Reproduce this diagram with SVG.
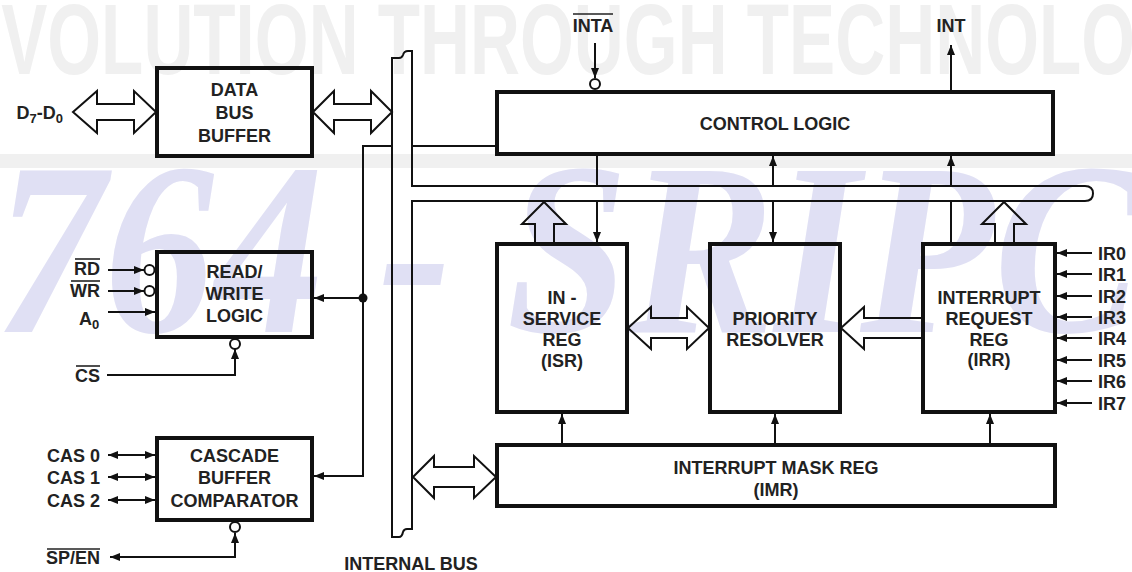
<svg xmlns="http://www.w3.org/2000/svg" width="1132" height="572" viewBox="0 0 1132 572">
<style>
.box{fill:none;stroke:#111;stroke-width:4}
.ln{fill:none;stroke:#111;stroke-width:2}
.hol{fill:none;stroke:#111;stroke-width:2;stroke-linejoin:miter}
.bub{fill:#fff;stroke:#111;stroke-width:2}
.t{font-family:"Liberation Sans",Arial,sans-serif;font-weight:bold;font-size:18px;fill:#222;text-anchor:middle}
.l{font-family:"Liberation Sans",Arial,sans-serif;font-weight:bold;font-size:18px;fill:#222;text-anchor:end}
.s{font-family:"Liberation Sans",Arial,sans-serif;font-weight:bold;font-size:18px;fill:#222;text-anchor:start}
.ov{stroke:#222;stroke-width:1.6}
</style>
<defs>
<marker id="ah" viewBox="0 0 10 8" refX="10" refY="4" markerWidth="10" markerHeight="8" markerUnits="userSpaceOnUse" orient="auto-start-reverse"><path d="M0,0 L10,4 L0,8 z" fill="#111"/></marker>
</defs>
<rect width="1132" height="572" fill="#fff"/>
<g id="watermark">
<text x="-45" y="74" font-family="'Liberation Sans Narrow','Liberation Sans',sans-serif" font-weight="bold" font-size="100" fill="#f0f0f0" textLength="1280" lengthAdjust="spacingAndGlyphs">EVOLUTION THROUGH TECHNOLOGY</text>
<rect x="0" y="154" width="1132" height="14" fill="#f0f0f0"/>
<text x="-5" y="332" font-family="'Liberation Serif',serif" font-style="italic" font-weight="bold" font-size="245" fill="#e0e0f4" textLength="1145" lengthAdjust="spacingAndGlyphs">764 - SRIPC</text>
</g>
<g id="connectors">
<path class="ln" d="M392,537 L392,58 L399,58 Q402,58 403,55 Q404,51 408,51 L412,51 L412,186 L1085,186 Q1093,186 1093,193.5 Q1093,201 1085,201 L412,201 L412,529 L407,529 Q404,529 403,532 Q402,537 399,537 Z"/>
<path class="ln" d="M392,146 H363 V476 H314" marker-end="url(#ah)"/>
<path class="ln" d="M412,146 H495"/>
<path class="ln" d="M363,298 H314" marker-end="url(#ah)"/>
<circle cx="363" cy="298" r="4.5" fill="#111"/>
<polygon class="hol" points="73,112 97,91 97,104 134,104 134,91 156,112 134,133 134,120 97,120 97,133"/>
<polygon class="hol" points="313,112 334,91 334,104 371,104 371,91 392,112 371,133 371,120 334,120 334,133"/>
<path class="ln" d="M108,270 H144" marker-end="url(#ah)"/>
<circle class="bub" cx="149.5" cy="270" r="5"/>
<path class="ln" d="M108,291 H144" marker-end="url(#ah)"/>
<circle class="bub" cx="149.5" cy="291" r="5"/>
<path class="ln" d="M108,312 H155" marker-end="url(#ah)"/>
<path class="ln" d="M107,375 H235 V349" marker-end="url(#ah)"/>
<circle class="bub" cx="235" cy="344" r="5"/>
<path class="ln" d="M108,455 H155" marker-start="url(#ah)" marker-end="url(#ah)"/>
<path class="ln" d="M108,477 H155" marker-start="url(#ah)" marker-end="url(#ah)"/>
<path class="ln" d="M108,500 H155" marker-start="url(#ah)" marker-end="url(#ah)"/>
<path class="ln" d="M235,533 V557 H110" marker-start="url(#ah)" marker-end="url(#ah)"/>
<circle class="bub" cx="235" cy="527" r="5"/>
<path class="ln" d="M595,43 V78" marker-end="url(#ah)"/>
<circle class="bub" cx="595" cy="84" r="5"/>
<path class="ln" d="M951,90 V45" marker-end="url(#ah)"/>
<path class="ln" d="M597,156 V186"/>
<path class="ln" d="M597,201 V242" marker-end="url(#ah)"/>
<path class="ln" d="M773,186 V156" marker-end="url(#ah)"/>
<path class="ln" d="M773,201 V242" marker-end="url(#ah)"/>
<path class="ln" d="M951,186 V156" marker-end="url(#ah)"/>
<path class="ln" d="M951,201 V242"/>
<path class="hol" d="M535,243 V224 H522 L544,202 L566,224 H554 V243"/>
<path class="hol" d="M995,243 V224 H982 L1004,202 L1026,224 H1014 V243"/>
<polygon class="hol" points="628,328 651,307 651,318 687,318 687,307 709,328 687,349 687,338 651,338 651,349"/>
<path class="hol" d="M922,318 H864 V307 L841,328 L864,349 V338 H922"/>
<polygon class="hol" points="413,477 434,456 434,467 474,467 474,456 496,477 474,498 474,487 434,487 434,498"/>
<path class="ln" d="M562,443 V414" marker-end="url(#ah)"/>
<path class="ln" d="M775,443 V414" marker-end="url(#ah)"/>
<path class="ln" d="M990,443 V414" marker-end="url(#ah)"/>
<path class="ln" d="M1092,253 H1057" marker-end="url(#ah)"/>
<path class="ln" d="M1092,274 H1057" marker-end="url(#ah)"/>
<path class="ln" d="M1092,296 H1057" marker-end="url(#ah)"/>
<path class="ln" d="M1092,317 H1057" marker-end="url(#ah)"/>
<path class="ln" d="M1092,338 H1057" marker-end="url(#ah)"/>
<path class="ln" d="M1092,360 H1057" marker-end="url(#ah)"/>
<path class="ln" d="M1092,381 H1057" marker-end="url(#ah)"/>
<path class="ln" d="M1092,403 H1057" marker-end="url(#ah)"/>
</g>
<g id="data-bus-buffer">
<rect class="box" x="157" y="68" width="155" height="88"/>
<text class="t" x="234.5" y="95.5">DATA</text>
<text class="t" x="234.5" y="118.5">BUS</text>
<text class="t" x="234.5" y="141.5">BUFFER</text>
</g>
<g id="read-write-logic">
<rect class="box" x="157" y="252" width="155" height="85"/>
<text class="t" x="234.5" y="278">READ/</text>
<text class="t" x="234.5" y="299.5">WRITE</text>
<text class="t" x="234.5" y="321.5">LOGIC</text>
</g>
<g id="cascade-buffer">
<rect class="box" x="157" y="438" width="155" height="82"/>
<text class="t" x="234.5" y="461.5">CASCADE</text>
<text class="t" x="234.5" y="484">BUFFER</text>
<text class="t" x="234.5" y="506.5">COMPARATOR</text>
</g>
<g id="control-logic">
<rect class="box" x="497" y="92" width="556" height="62"/>
<text class="t" x="775" y="129.5">CONTROL LOGIC</text>
</g>
<g id="isr">
<rect class="box" x="497" y="244" width="130" height="168"/>
<text class="t" x="562" y="303.5">IN -</text>
<text class="t" x="562" y="324.5">SERVICE</text>
<text class="t" x="562" y="345.5">REG</text>
<text class="t" x="562" y="366.5">(ISR)</text>
</g>
<g id="priority-resolver">
<rect class="box" x="710" y="244" width="130" height="168"/>
<text class="t" x="775" y="324.5">PRIORITY</text>
<text class="t" x="775" y="345.5">RESOLVER</text>
</g>
<g id="irr">
<rect class="box" x="923" y="244" width="132" height="168"/>
<text class="t" x="989" y="303.5">INTERRUPT</text>
<text class="t" x="989" y="324.5">REQUEST</text>
<text class="t" x="989" y="345.5">REG</text>
<text class="t" x="989" y="365.5">(IRR)</text>
</g>
<g id="imr">
<rect class="box" x="497" y="445" width="558" height="61"/>
<text class="t" x="776" y="473.5">INTERRUPT MASK REG</text>
<text class="t" x="776" y="495.5">(IMR)</text>
</g>
<g id="labels">
<text class="l" x="63" y="118.5">D<tspan font-size="13" dy="4">7</tspan><tspan dy="-4">-D</tspan><tspan font-size="13" dy="4">0</tspan></text>
<text class="l" x="100" y="274.5">RD</text>
<line class="ov" x1="75" y1="259" x2="100" y2="259"/>
<text class="l" x="100" y="296.5">WR</text>
<line class="ov" x1="71" y1="281" x2="100" y2="281"/>
<text class="s" x="79" y="325">A<tspan font-size="13" dy="4">0</tspan></text>
<text class="l" x="100" y="381.5">CS</text>
<line class="ov" x1="76" y1="366" x2="100" y2="366"/>
<text class="l" x="100" y="461.5">CAS 0</text>
<text class="l" x="100" y="483.5">CAS 1</text>
<text class="l" x="100" y="506.5">CAS 2</text>
<text class="l" x="100" y="564">SP/EN</text>
<line class="ov" x1="47" y1="549" x2="100" y2="549"/>
<text class="t" x="593" y="31.5">INTA</text>
<line class="ov" x1="573" y1="14" x2="613" y2="14"/>
<text class="t" x="951" y="31.5">INT</text>
<text class="t" x="411" y="569.5">INTERNAL BUS</text>
<text class="s" x="1098" y="259.5">IR0</text>
<text class="s" x="1098" y="280.5">IR1</text>
<text class="s" x="1098" y="302.5">IR2</text>
<text class="s" x="1098" y="323.5">IR3</text>
<text class="s" x="1098" y="344.5">IR4</text>
<text class="s" x="1098" y="366.5">IR5</text>
<text class="s" x="1098" y="387.5">IR6</text>
<text class="s" x="1098" y="409.5">IR7</text>
</g>
</svg>
